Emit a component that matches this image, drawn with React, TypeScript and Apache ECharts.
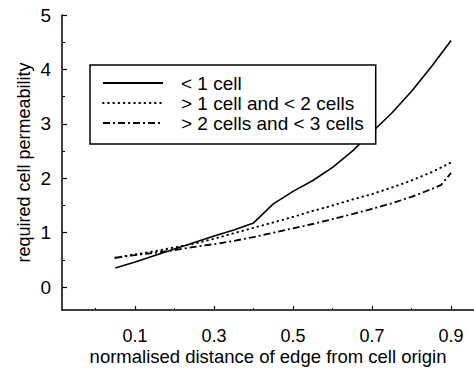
import React, { useEffect, useRef } from "react";
import * as echarts from "echarts";

const xs = [0.05, 0.1, 0.15, 0.2, 0.25, 0.3, 0.35, 0.4, 0.45, 0.5, 0.55, 0.6, 0.65, 0.7, 0.75, 0.8, 0.85, 0.9];
const lessThan1 = [0.35, 0.46, 0.58, 0.7, 0.82, 0.94, 1.05, 1.18, 1.53, 1.76, 1.96, 2.2, 2.5, 2.85, 3.2, 3.6, 4.05, 4.53];
const between1and2 = [0.54, 0.6, 0.66, 0.73, 0.8, 0.89, 0.99, 1.09, 1.19, 1.29, 1.4, 1.5, 1.61, 1.71, 1.83, 1.96, 2.11, 2.29];
const dashXs = [0.05, 0.1, 0.15, 0.2, 0.25, 0.3, 0.35, 0.4, 0.45, 0.5, 0.55, 0.6, 0.65, 0.7, 0.75, 0.8, 0.85, 0.875, 0.9];
const between2and3 = [0.54, 0.59, 0.63, 0.68, 0.74, 0.79, 0.85, 0.92, 1.0, 1.08, 1.16, 1.25, 1.34, 1.44, 1.54, 1.66, 1.8, 1.88, 2.1];

const seriesNames = ["< 1 cell", "> 1 cell and < 2 cells", "> 2 cells and < 3 cells"];
const xLabelValues = [0.1, 0.3, 0.5, 0.7, 0.9];
const xMinorValues = [0, 0.2, 0.4, 0.6, 0.8];
const yLabelValues = [0, 1, 2, 3, 4, 5];
const yMinorValues = [0.5, 1.5, 2.5, 3.5, 4.5];

const FONT = "'Liberation Sans', Arial, sans-serif";

export default function App() {
  const ref = useRef<HTMLDivElement>(null);
  useEffect(() => {
    if (!ref.current) return;
    const chart = echarts.init(ref.current, undefined, { renderer: "svg" });
    const axisLine = { show: true, onZero: false, lineStyle: { color: "#000", width: 1.5 } };
    const pair = (x: number[], y: number[]) => x.map((v, i) => [v, y[i]]);
    chart.setOption({
      animation: false,
      backgroundColor: "#fff",
      textStyle: { fontFamily: FONT, color: "#000" },
      grid: { left: 62, top: 15, right: 0, bottom: 58, containLabel: false, outerBoundsMode: "none" },
      legend: {
        orient: "vertical",
        left: 90,
        top: 65,
        itemWidth: 60,
        itemHeight: 16,
        itemGap: 0,
        padding: [8, 12, 11, 12],
        borderColor: "#000",
        borderWidth: 1.5,
        backgroundColor: "#fff",
        itemStyle: { opacity: 0 },
        textStyle: { fontSize: 19, lineHeight: 20, color: "#000", fontFamily: FONT, padding: [0, 0, 0, 13] },
        data: seriesNames,
      },
      xAxis: [
        {
          type: "value",
          min: -0.085,
          max: 0.958,
          axisLine,
          splitLine: { show: false },
          axisTick: { show: true, inside: true, length: 4, customValues: xLabelValues, lineStyle: { color: "#000", width: 1.2 } },
          axisLabel: { customValues: xLabelValues, fontSize: 18, lineHeight: 19, color: "#000", margin: 16, fontFamily: FONT },
          name: "normalised distance of edge from cell origin",
          nameLocation: "middle",
          nameMoveOverlap: false,
          nameGap: 37,
          nameTextStyle: { fontSize: 18.5, color: "#000", fontFamily: FONT, lineHeight: 19 },
        },
        {
          type: "value",
          min: -0.085,
          max: 0.958,
          position: "bottom",
          axisLine: { show: false, onZero: false },
          splitLine: { show: false },
          axisTick: { show: true, inside: true, length: 2, customValues: xMinorValues, lineStyle: { color: "#000", width: 1 } },
          axisLabel: { show: false },
        },
      ],
      yAxis: [
        {
          type: "value",
          min: -0.42,
          max: 5,
          axisLine,
          splitLine: { show: false },
          axisTick: { show: true, inside: true, length: 5, customValues: yLabelValues, lineStyle: { color: "#000", width: 1.2 } },
          axisLabel: { customValues: yLabelValues, fontSize: 19, color: "#000", margin: 11, fontFamily: FONT, verticalAlign: "middle", padding: [4, 0, 0, 0] },
          name: "required cell permeability",
          nameLocation: "middle",
          nameMoveOverlap: false,
          nameGap: 29,
          nameTextStyle: { fontSize: 18, color: "#000", fontFamily: FONT },
        },
        {
          type: "value",
          min: -0.42,
          max: 5,
          position: "left",
          axisLine: { show: false, onZero: false },
          splitLine: { show: false },
          axisTick: { show: true, inside: true, length: 3, customValues: yMinorValues, lineStyle: { color: "#000", width: 1 } },
          axisLabel: { show: false },
        },
      ],
      series: [
        {
          name: seriesNames[0],
          type: "line",
          symbol: "none",
          data: pair(xs, lessThan1),
          lineStyle: { color: "#000", width: 1.6, type: "solid" },
          itemStyle: { color: "#000" },
        },
        {
          name: seriesNames[1],
          type: "line",
          symbol: "none",
          data: pair(xs, between1and2),
          lineStyle: { color: "#000", width: 2, type: [0.6, 4.6], cap: "round" },
          itemStyle: { color: "#000" },
        },
        {
          name: seriesNames[2],
          type: "line",
          symbol: "none",
          data: pair(dashXs, between2and3),
          lineStyle: { color: "#000", width: 1.8, type: [7, 3, 2, 3] },
          itemStyle: { color: "#000" },
        },
      ],
    });
    return () => chart.dispose();
  }, []);
  return <div ref={ref} style={{ position: "fixed", left: 0, top: 0, width: 474, height: 368 }} />;
}
